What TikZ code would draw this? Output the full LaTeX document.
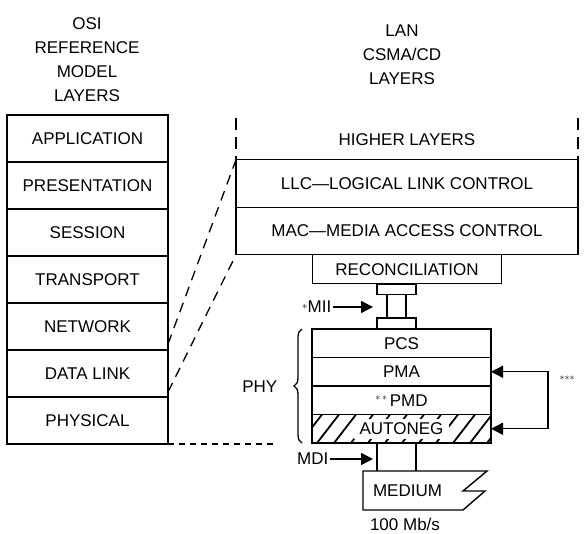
\documentclass[tikz,border=0pt]{standalone}
\usepackage{fontspec}
\setmainfont{Liberation Sans}
\usetikzlibrary{positioning, calc, arrows.meta, decorations.pathreplacing}

\begin{document}
\begin{tikzpicture}[x=1pt, y=-1pt, >={Triangle[length=12pt, width=12pt]},
    font=\fontsize{17}{24}\selectfont, line width=1.4pt,
    layer/.style={draw, outer sep=0pt, inner sep=0pt, minimum width=161pt, minimum height=47pt},
    lanbox/.style={draw, outer sep=0pt, inner sep=0pt, minimum width=342pt, minimum height=47.5pt},
    phybox/.style={draw, outer sep=0pt, inner sep=0pt, minimum width=179pt, minimum height=28.5pt},
    plug/.style={draw, outer sep=0pt, inner sep=0pt, minimum width=39pt, minimum height=10.5pt},
    link/.style={dash pattern=on 10pt off 7pt, line width=1.3pt},
    hdr/.style={align=center},
    stars/.style={font=\fontsize{10}{10}\selectfont}]
    \useasboundingbox (0,0) rectangle (586,533);

    % Headings
    \node[hdr] (osihdr) at (87,60) {OSI\\REFERENCE\\MODEL\\LAYERS};
    \node[hdr] (lanhdr) at (402,55) {LAN\\CSMA/CD\\LAYERS};

    % OSI stack
    \node[layer] (app) at (87.5,138.5) {APPLICATION};
    \node[layer, below=0pt of app] (pres) {PRESENTATION};
    \node[layer, below=0pt of pres] (sess) {SESSION};
    \node[layer, below=0pt of sess] (trans) {TRANSPORT};
    \node[layer, below=0pt of trans] (net) {NETWORK};
    \node[layer, below=0pt of net] (dlink) {DATA LINK};
    \node[layer, below=0pt of dlink] (phys) {PHYSICAL};

    % LAN stack
    \node (higher) at (407,140) {HIGHER LAYERS};
    \node[lanbox] (llc) at (407,183.5) {LLC—LOGICAL LINK CONTROL};
    \node[lanbox, below=0pt of llc] (mac) {MAC—MEDIA ACCESS CONTROL};
    \node[draw, outer sep=0pt, minimum width=189pt, minimum height=29pt, below=0pt of mac] (recon) {RECONCILIATION};
    \coordinate[above=42pt of llc.north west] (hlw);
    \coordinate[above=42pt of llc.north east] (hle);
    \draw[link, dash pattern=on 12pt off 7pt] (hlw) -- (llc.north west);
    \draw[link, dash pattern=on 12pt off 7pt] (hle) -- (llc.north east);

    % MII
    \node[plug, anchor=north] (miitop) at (396.5,284) {};
    \node[plug, anchor=north] (miibot) at (396.5,318) {};
    \draw ([xshift=-9.5pt]miitop.south) -- ([xshift=-9.5pt]miibot.north);
    \draw ([xshift=9.5pt]miitop.south) -- ([xshift=9.5pt]miibot.north);
    \node[anchor=east, inner sep=1pt] (mii) at (333,307) {\raisebox{3pt}{\fontsize{11}{11}\selectfont$\ast$}MII};
    \draw[->] (mii.east) -- ($(miitop.west |- mii.east)+(-4,0)$);

    % PHY
    \node[phybox] (pcs) at (401.5,343.25) {PCS};
    \node[phybox, below=0pt of pcs] (pma) {PMA};
    \node[phybox, below=0pt of pma] (pmd) {\raisebox{6pt}{\fontsize{10}{10}\selectfont$\ast\,\ast$}\,PMD};
    \node[phybox, below=0pt of pmd] (autoneg) {};
    \begin{scope}
      \clip (autoneg.north west) rectangle (autoneg.south east);
      \foreach \x in {300,317,...,500}
        \draw[line width=1.8pt] (\x,443) -- ++(22,-28.5);
    \end{scope}
    \node[fill=white, inner xsep=6pt, inner ysep=4pt] (autotxt) at (autoneg) {AUTONEG};
    \draw[decorate, decoration={brace, amplitude=8pt}, line width=1.3pt]
      ([xshift=-10pt]autoneg.south west) -- ([xshift=-10pt]pcs.north west);
    \node[anchor=east, inner sep=1pt] (phy) at (279,387) {PHY};
    \draw[<->] (pma.east) -- ++(57,0) |- (autoneg.east);
    \node[stars] (ast) at (567,378) {${\ast}{\ast}{\ast}$};

    % MDI and medium
    \draw ([xshift=-24.5pt]autoneg.south) -- ++(0,28);
    \draw ([xshift=14.5pt]autoneg.south) -- ++(0,28);
    \node[anchor=east, inner sep=1pt] (mdi) at (330,459) {MDI};
    \draw[->] (mdi.east) -- ($(miitop.west |- mdi.east)+(-4,0)$);
    \node (medium) at (407.5,491) {MEDIUM};
    \draw (363,471) -- (487,471) -- (463,491) -- (485,491) -- (463,510) -- (363,510) -- cycle;
    \node (rate) at (405,524) {100 Mb/s};

    % OSI to LAN
    \draw[link] ([yshift=6pt]dlink.north east) -- (llc.north west);
    \draw[link] ([yshift=5pt]dlink.south east) -- (mac.south west);
    \draw[link, dash pattern=on 6pt off 5pt] (phys.south east) -- ++(107,0);
  \end{tikzpicture}
\end{document}
